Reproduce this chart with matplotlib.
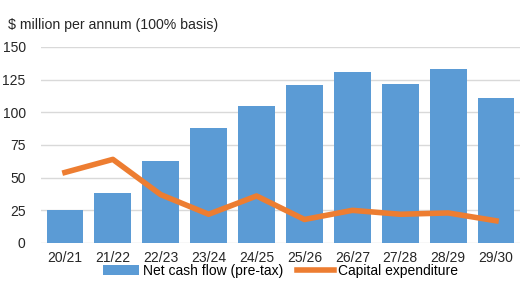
import numpy as np
import matplotlib.pyplot as plt

plt.rcParams['font.family'] = ['Liberation Sans', 'DejaVu Sans']

years = ['20/21', '21/22', '22/23', '23/24', '24/25', '25/26', '26/27', '27/28', '28/29', '29/30']
net_cash_flow = [25, 38.5, 63, 88, 105, 121, 131, 122, 133, 111]
capex = [54, 64, 37, 22, 36, 18, 25, 22, 23, 17]

fig = plt.figure(figsize=(5.29, 2.82), dpi=100)
ax = fig.add_axes([41 / 529, 1 - 243 / 282, 479 / 529, 196 / 282])

x = np.arange(len(years))
bars = ax.bar(x, net_cash_flow, width=0.77, color='#5B9BD5', label='Net cash flow (pre-tax)', zorder=2)
line, = ax.plot(x, capex, color='#ED7D31', linewidth=4, label='Capital expenditure', zorder=3)

ax.set_xlim(-0.5, len(years) - 0.5)
ax.set_ylim(0, 150)
ax.set_yticks(range(0, 151, 25))
ax.set_xticks(x)
ax.set_xticklabels(years)
ax.grid(axis='y', color='#D9D9D9', linewidth=1, zorder=0)
for s in ax.spines.values():
    s.set_visible(False)
ax.tick_params(length=0, labelsize=10, colors='#262626')
ax.tick_params(axis='y', pad=11)
ax.tick_params(axis='x', pad=6)

fig.text(8 / 529, 1 - 25 / 282, '$ million per annum (100% basis)', fontsize=10.2,
         color='#262626', va='center', ha='left')

fig.legend([bars, line], ['Net cash flow (pre-tax)', 'Capital expenditure'],
           loc='center', bbox_to_anchor=(0.53, 1 - 271 / 282), ncol=2, frameon=False,
           fontsize=10, handlelength=2.6, columnspacing=1.0, handletextpad=0.3,
           borderaxespad=0)

fig.savefig('out.png', dpi=100)
